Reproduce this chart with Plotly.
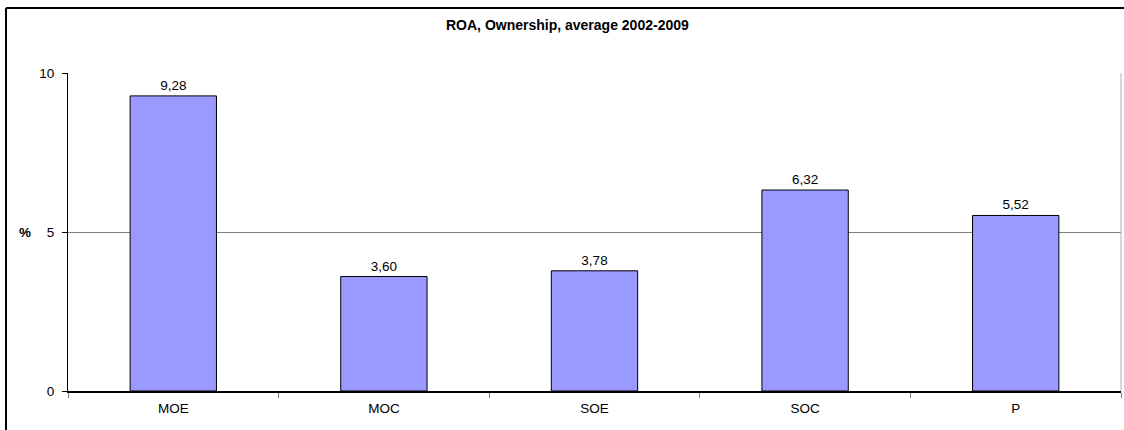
import plotly.graph_objects as go

categories = ["MOE", "MOC", "SOE", "SOC", "P"]
roa_values = [9.28, 3.60, 3.78, 6.32, 5.52]
y_ticks = [0, 5, 10]

W, H = 1124, 430
L, R, T, B = 68, 3, 73, 39
pw, ph = W - L - R, H - T - B

fig = go.Figure(
    go.Bar(
        x=categories,
        y=roa_values,
        marker=dict(color="#9999FF", line=dict(color="black", width=1)),
        texttemplate="%{y:.2f}",
        textposition="outside",
        textfont=dict(family="Arial", size=13.5, color="black"),
        cliponaxis=False,
        width=0.41,
    )
)

def px_x(x):
    return (x - L) / pw

def px_y(y):
    return (H - B - y) / ph

fig.update_layout(
    width=W,
    height=H,
    margin=dict(l=L, r=R, t=T, b=B),
    paper_bgcolor="white",
    plot_bgcolor="white",
    separators=",.",
    showlegend=False,
    font=dict(family="Arial", size=13.5, color="black"),
    xaxis=dict(
        showline=True,
        linecolor="black",
        linewidth=1.5,
        ticks="outside",
        tickson="boundaries",
        ticklen=5,
        tickcolor="#808080",
        showgrid=False,
        ticklabelstandoff=4,
        tickfont=dict(family="Arial", size=13.5),
    ),
    yaxis=dict(
        range=[0, 10],
        tickvals=y_ticks,
        showline=True,
        linecolor="black",
        linewidth=1,
        ticks="outside",
        ticklen=5,
        tickcolor="black",
        showgrid=True,
        gridcolor="#808080",
        gridwidth=1,
        zeroline=False,
        ticklabelstandoff=5,
        tickfont=dict(family="Arial", size=13.5),
    ),
    shapes=[
        # outer chart frame: top and left edges
        dict(type="line", xref="paper", yref="paper",
             x0=px_x(6), x1=px_x(W), y0=px_y(8), y1=px_y(8),
             line=dict(color="black", width=2), layer="below"),
        dict(type="line", xref="paper", yref="paper",
             x0=px_x(6), x1=px_x(6), y0=px_y(8), y1=px_y(H),
             line=dict(color="black", width=2), layer="below"),
        # right edge of the plot area
        dict(type="line", xref="paper", yref="paper",
             x0=1, x1=1, y0=0, y1=1,
             line=dict(color="#B0B0B0", width=1)),
    ],
    annotations=[
        dict(text="<b>ROA, Ownership, average 2002-2009</b>", xref="paper", yref="paper",
             x=px_x(567), y=px_y(25), xanchor="center", yanchor="middle",
             showarrow=False, font=dict(family="Arial", size=14, color="black")),
        dict(text="<b>%</b>", xref="paper", yref="paper",
             x=px_x(25), y=px_y(232), xanchor="center", yanchor="middle",
             showarrow=False, font=dict(family="Arial", size=13.5, color="black")),
    ],
)

fig.write_html("out.html")
